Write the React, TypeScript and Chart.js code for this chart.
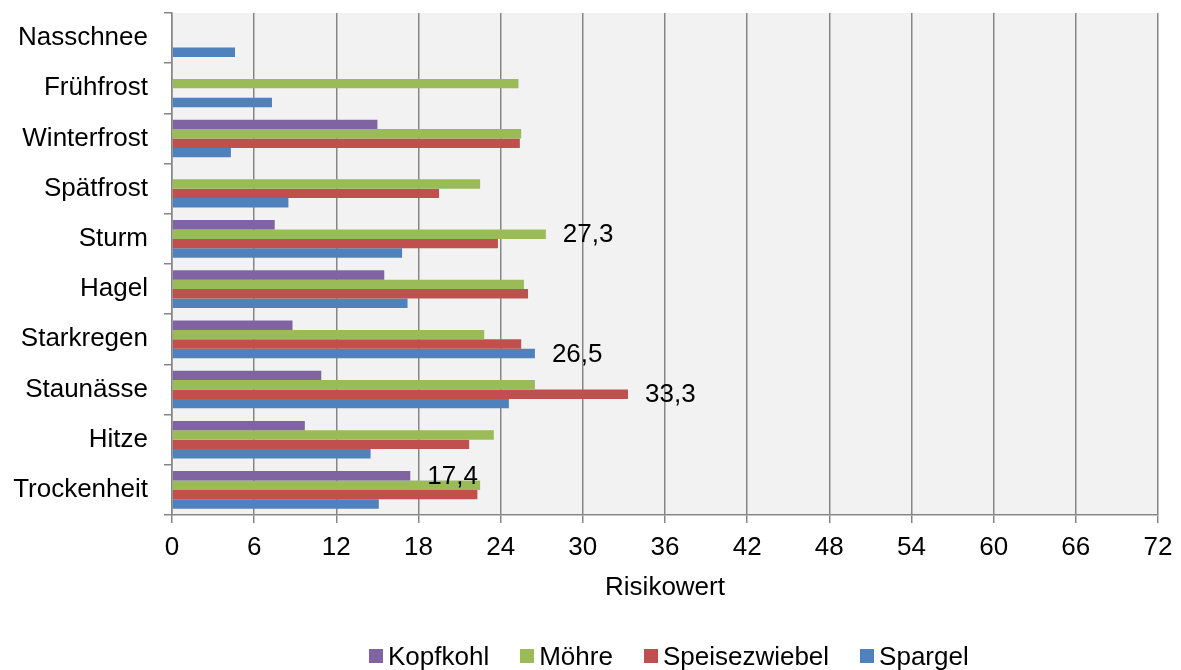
import React, { useEffect, useRef } from "react";
import { Chart, registerables } from "chart.js";

Chart.register(...registerables);

const categories = [
  "Nasschnee",
  "Frühfrost",
  "Winterfrost",
  "Spätfrost",
  "Sturm",
  "Hagel",
  "Starkregen",
  "Staunässe",
  "Hitze",
  "Trockenheit",
];

const seriesNames = ["Kopfkohl", "Möhre", "Speisezwiebel", "Spargel"];
const seriesColors = ["#8064A2", "#9BBB59", "#C0504D", "#4F81BD"];

const kopfkohl = [null, null, 15.0, null, 7.5, 15.5, 8.8, 10.9, 9.7, 17.4];
const moehre = [null, 25.3, 25.5, 22.5, 27.3, 25.7, 22.8, 26.5, 23.5, 22.5];
const speisezwiebel = [null, null, 25.4, 19.5, 23.8, 26.0, 25.5, 33.3, 21.7, 22.3];
const spargel = [4.6, 7.3, 4.3, 8.5, 16.8, 17.2, 26.5, 24.6, 14.5, 15.1];

const xMin = 0;
const xMax = 72;
const xStep = 6;
const xTitle = "Risikowert";

// value labels shown in the reference: [series index, category]
const labelledPoints: [number, string][] = [
  [1, "Sturm"],
  [0, "Trockenheit"],
  [3, "Starkregen"],
  [2, "Staunässe"],
];

const FONT = "'Liberation Sans', Arial, Helvetica, sans-serif";
const AXIS_GRAY = "#868686";

const plotBackground = {
  id: "plotBackground",
  beforeDraw(chart: any) {
    const { ctx, chartArea } = chart;
    ctx.save();
    ctx.fillStyle = "#F2F2F2";
    ctx.fillRect(
      chartArea.left,
      chartArea.top,
      chartArea.right - chartArea.left,
      chartArea.bottom - chartArea.top
    );
    ctx.restore();
  },
};

const valueLabels = {
  id: "valueLabels",
  afterDatasetsDraw(chart: any) {
    const { ctx } = chart;
    ctx.save();
    ctx.font = `26px ${FONT}`;
    ctx.fillStyle = "#000";
    ctx.textAlign = "left";
    ctx.textBaseline = "middle";
    labelledPoints.forEach(([di, cat]) => {
      const ci = categories.indexOf(cat);
      const meta = chart.getDatasetMeta(di);
      const el = meta.data[ci];
      const v = chart.data.datasets[di].data[ci];
      if (!el || v == null) return;
      const txt = Number(v).toFixed(1).replace(".", ",");
      ctx.fillText(txt, el.x + 17, el.y + 1);
    });
    ctx.restore();
  },
};

export default function App() {
  const canvasRef = useRef<HTMLCanvasElement | null>(null);

  useEffect(() => {
    const canvas = canvasRef.current;
    if (!canvas) return;
    const seriesData = [kopfkohl, moehre, speisezwiebel, spargel];
    const chart = new Chart(canvas, {
      type: "bar",
      data: {
        labels: categories,
        datasets: seriesNames.map((name, i) => ({
          label: name,
          data: seriesData[i] as any,
          backgroundColor: seriesColors[i],
          borderWidth: 0,
          barPercentage: 1,
          categoryPercentage: 0.75,
        })),
      },
      options: {
        indexAxis: "y",
        animation: false,
        responsive: false,
        maintainAspectRatio: false,
        layout: { padding: { left: 0, top: 13, right: 23, bottom: 67 } },
        plugins: {
          legend: { display: false },
          tooltip: { enabled: false },
          title: { display: false },
        },
        scales: {
          x: {
            type: "linear",
            position: "bottom",
            min: xMin,
            max: xMax,
            ticks: {
              stepSize: xStep,
              padding: 9,
              color: "#000",
              font: { family: FONT, size: 26 },
            },
            grid: {
              color: AXIS_GRAY,
              lineWidth: 1.5,
              drawTicks: true,
              tickLength: 8,
            },
            border: { display: true, color: AXIS_GRAY, width: 1.5 },
            title: {
              display: true,
              text: xTitle,
              color: "#000",
              font: { family: FONT, size: 26 },
              padding: { top: 0, bottom: 0 },
            },
            afterFit(scale: any) {
              scale.height = 88;
              scale.paddingLeft = 0;
              scale.paddingRight = 0;
            },
          },
          y: {
            type: "category",
            position: "left",
            ticks: {
              padding: 16,
              color: "#000",
              font: { family: FONT, size: 26 },
            },
            grid: {
              offset: true,
              drawOnChartArea: false,
              drawTicks: true,
              tickLength: 8,
              color: AXIS_GRAY,
              lineWidth: 1.5,
            },
            border: { display: true, color: AXIS_GRAY, width: 1.5 },
            afterFit(scale: any) {
              scale.width = 172;
              scale.paddingTop = 0;
              scale.paddingBottom = 0;
            },
          },
        },
      },
      plugins: [plotBackground, valueLabels],
    });
    return () => chart.destroy();
  }, []);

  return (
    <div
      style={{
        position: "absolute",
        left: 0,
        top: 0,
        width: 1181,
        height: 670,
        background: "#fff",
        overflow: "hidden",
      }}
    >
      <canvas
        ref={canvasRef}
        width={1181}
        height={670}
        style={{ display: "block", width: 1181, height: 670 }}
      />
      <div
        style={{
          position: "absolute",
          left: 369,
          top: 641,
          height: 30,
          display: "flex",
          alignItems: "center",
          gap: 31,
          fontFamily: FONT,
          fontSize: 26,
          lineHeight: "30px",
          color: "#000",
          whiteSpace: "nowrap",
        }}
      >
        {seriesNames.map((name, i) => (
          <div key={name} style={{ display: "flex", alignItems: "center" }}>
            <span
              style={{
                display: "inline-block",
                width: 14,
                height: 14,
                background: seriesColors[i],
                marginRight: 5,
              }}
            />
            <span>{name}</span>
          </div>
        ))}
      </div>
    </div>
  );
}
